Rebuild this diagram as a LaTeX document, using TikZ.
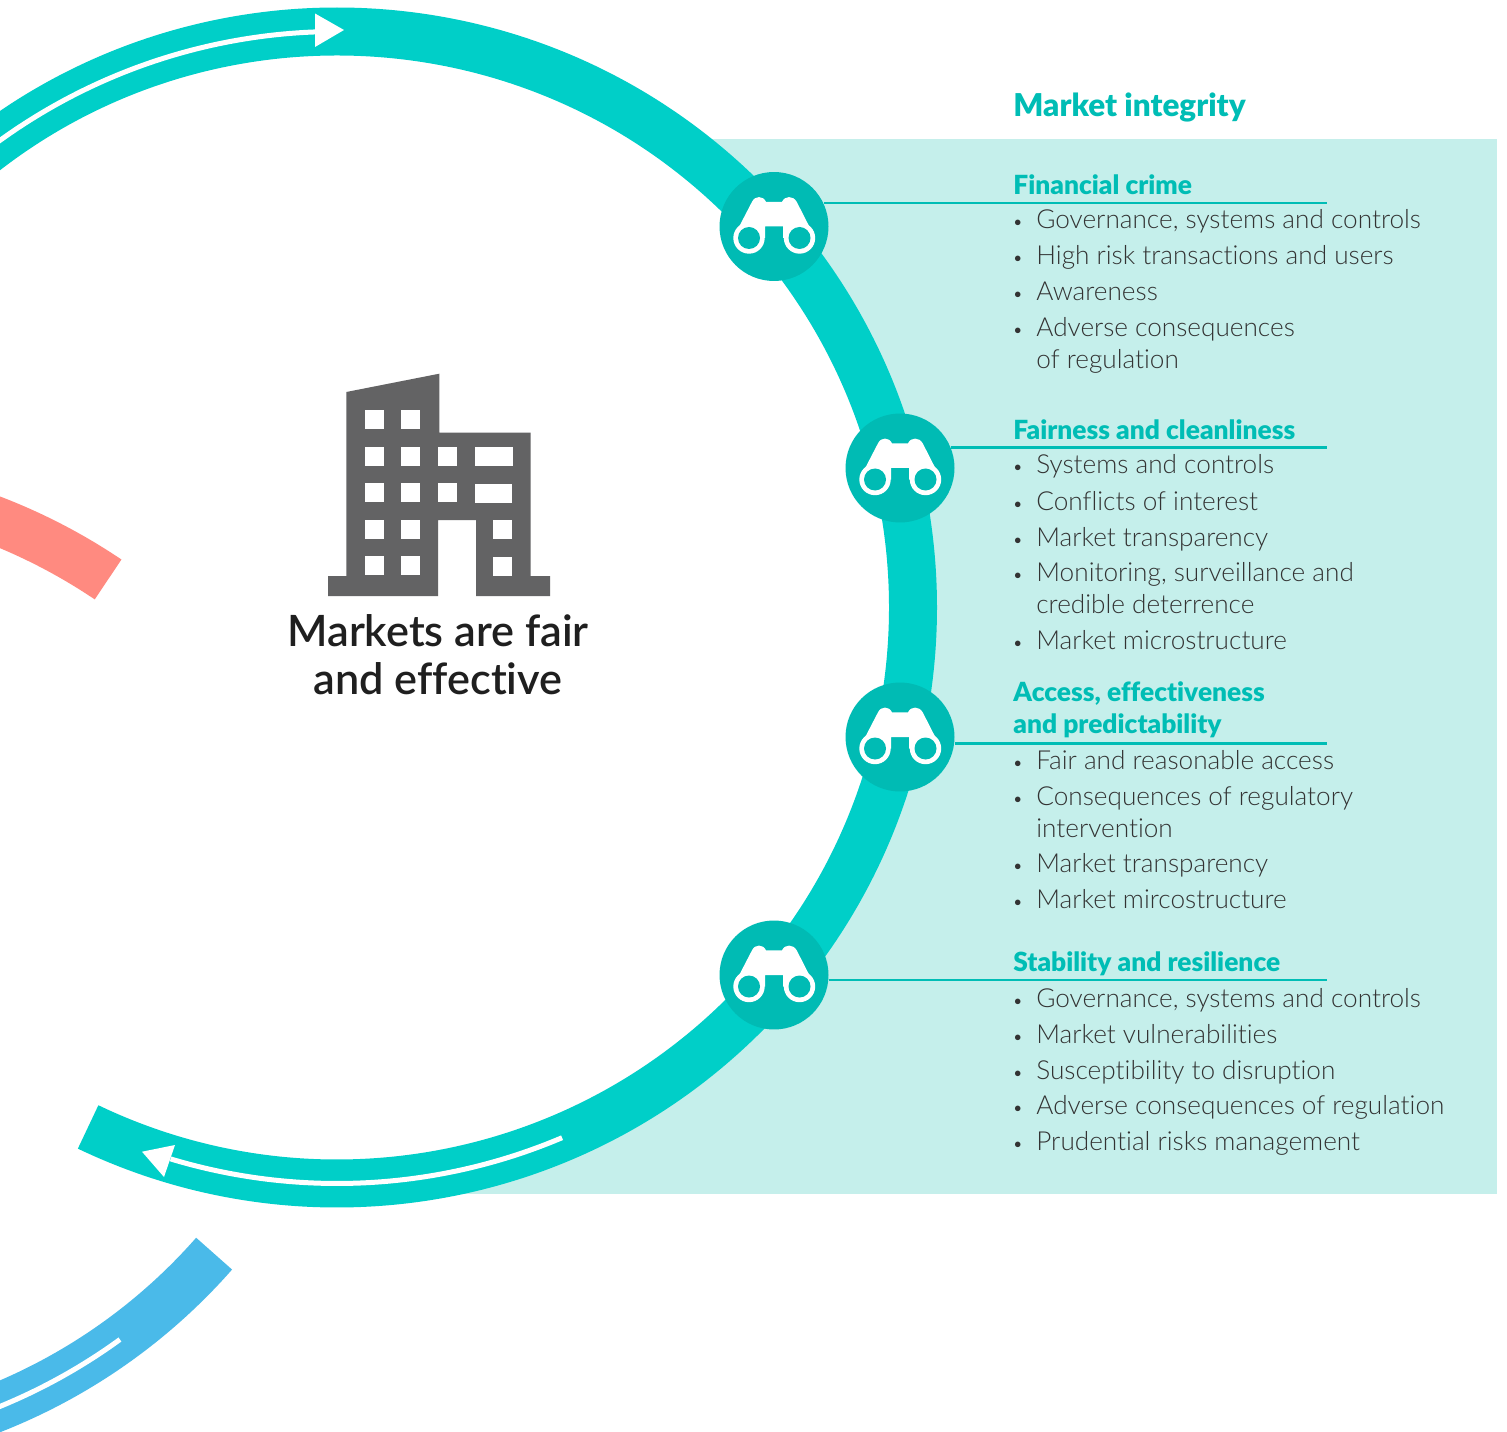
\documentclass[tikz,border=0pt]{standalone}
\usepackage{fontspec}
\setmainfont{Lato}[UprightFont=* Light,BoldFont=* Bold,Ligatures=NoCommon]
\newfontfamily\headfont{Lato Black}[Ligatures=NoCommon]
\newfontfamily\titlefont{Lato Semibold}[Ligatures=NoCommon]
\definecolor{ringteal}{HTML}{00CFC8}
\definecolor{lensteal}{HTML}{00BBB4}
\definecolor{paleteal}{HTML}{C5EFEB}
\definecolor{headteal}{HTML}{00BDB5}
\definecolor{salmon}{HTML}{FF8A80}
\definecolor{skyblue}{HTML}{4ABAE9}
\definecolor{towergray}{HTML}{636364}
\definecolor{itemgray}{HTML}{333333}
\newcommand{\bul}{\llap{\scalebox{0.72}{\textbullet}\hspace{0.5em}}}
\tikzset{
	band/.style={line width=0.96cm},
	thinline/.style={line width=0.1cm, draw=white},
	rulerline/.style={line width=0.05cm, draw=headteal},
	lens/.style={circle, fill=lensteal, minimum size=2.18cm, inner sep=0pt},
	itemtext/.style={anchor=base west, inner sep=0pt, text=itemgray, font=\fontsize{14.9}{18}\selectfont},
	headtext/.style={anchor=base west, inner sep=0pt, text=headteal, font=\fontsize{15}{18}\headfont},
	binoculars/.pic={
		\fill[white] (-39.3,8.7) -- (-22,-24.7) .. controls (-19,-31) and (-11,-31) .. (-8,-24.7) -- (8,-24.7) .. controls (11,-31) and (19,-31) .. (22.7,-24.7) -- (39.7,8.7) -- (25,11.5) -- (9,11.5) -- (9,0) -- (-9,0) -- (-9,11.5) -- (-25,11.5) -- cycle;
		\fill[white] (-25,11.5) circle (15.7);
		\fill[white] (25.5,11.5) circle (15.7);
		\fill[lensteal] (-25,11.5) circle (11);
		\fill[lensteal] (25.5,11.5) circle (11);
	}
}
\begin{document}
\begin{tikzpicture}[x=0.02cm,y=-0.02cm]
	\def\r{576}
	\clip (0,0) rectangle (1507,1432);
	\fill[white] (0,0) rectangle (1507,1432);
	\coordinate (c) at (337,607.5);
	\coordinate (s) at (-214,1057);
	\coordinate (b) at (-218.6,873.5);
	% panel behind the ring
	\fill[paleteal] (337,139) rectangle (1497,1193.5);
	\fill[white] (c) circle (\r);
	% rings
	\draw[band, draw=ringteal] (c) ++(225:\r) arc[start angle=225, end angle=475.6, radius=\r];
	\draw[band, draw=salmon] (s) ++(260:\r) arc[start angle=260, end angle=304, radius=\r];
	\draw[band, draw=skyblue] (b) ++(70:\r) arc[start angle=70, end angle=41.3, radius=\r];
	% white arrows
	\draw[thinline] (c) ++(225:\r) arc[start angle=225, end angle=267.8, radius=\r];
	\fill[white] (315,13.5) -- (344,30) -- (315,47) -- cycle;
	\draw[thinline] (c) ++(67:\r) arc[start angle=67, end angle=106.8, radius=\r];
	\fill[white] (142,1151.7) -- (175,1145) -- (164,1177) -- cycle;
	\draw[thinline] (b) ++(70:\r) arc[start angle=70, end angle=54, radius=\r];
	% tower
	\fill[towergray] (346.3,392) -- (439.3,373.7) -- (439.3,432.7) -- (530.7,432.7) -- (530.7,576) -- (550,576) -- (550,596) -- (476,596) -- (476,520) -- (438,520) -- (438,596) -- (328,596) -- (328,576) -- (346.3,576) -- cycle;
	\foreach \y in {410,447,483,520,556}
		\foreach \x in {365,401}
			\fill[white] (\x,\y) rectangle ++(19,19);
	\foreach \y in {447,483}
		\fill[white] (438,\y) rectangle ++(19,19);
	\fill[white] (475,447) rectangle (513,466);
	\fill[white] (475,484) rectangle (512,503);
	\fill[white] (493,520) rectangle (512,539);
	\fill[white] (493,557) rectangle (512,576);
	\node[inner sep=0pt, align=center, text=black!88, font=\fontsize{24.6}{27.2}\titlefont] (title) at (438,654.5) {Markets are fair\\and effective};
	% rulers and lenses
	\coordinate (e1) at (1327,203);
	\coordinate (e2) at (1327,447.5);
	\coordinate (e3) at (1327,743.5);
	\coordinate (e4) at (1327,980);
	\node[lens] (l1) at (774,226.5) {};
	\node[lens] (l2) at (900,468) {};
	\node[lens] (l3) at (900,737) {};
	\node[lens] (l4) at (774,975) {};
	\draw[rulerline] (l1.25.5 |- e1) -- (e1);
	\draw[rulerline] (l2.22 |- e2) -- (e2);
	\draw[rulerline] (l3.-6.8 |- e3) -- (e3);
	\draw[rulerline] (l4.-5.3 |- e4) -- (e4);
	\foreach \n in {l1,l2,l3,l4}
		\pic at (\n) {binoculars};
	% texts
	\node[headtext, font=\fontsize{17.9}{20}\headfont] (h0) at (1013,117) {Market integrity};
	\node[headtext] (h1) at (1013,195) {Financial crime};
	\node[itemtext] (a1) at (1036,229) {\bul Governance, systems and controls};
	\node[itemtext] (a2) at (1036,265) {\bul High risk transactions and users};
	\node[itemtext] (a3) at (1036,301) {\bul Awareness};
	\node[itemtext] (a4) at (1036,337) {\bul Adverse consequences};
	\node[itemtext] (a5) at (1036,369) {of regulation};
	\node[headtext] (h2) at (1013,439) {Fairness and cleanliness};
	\node[itemtext] (b1) at (1036,474) {\bul Systems and controls};
	\node[itemtext] (b2) at (1036,510) {\bul Conflicts of interest};
	\node[itemtext] (b3) at (1036,546) {\bul Market transparency};
	\node[itemtext] (b4) at (1036,581) {\bul Monitoring, surveillance and};
	\node[itemtext] (b5) at (1036,613) {credible deterrence};
	\node[itemtext] (b6) at (1036,649) {\bul Market microstructure};
	\node[headtext] (h3) at (1013,701) {Access, effectiveness};
	\node[headtext] (h3b) at (1013,733) {and predictability};
	\node[itemtext] (d1) at (1036,769) {\bul Fair and reasonable access};
	\node[itemtext] (d2) at (1036,805) {\bul Consequences of regulatory};
	\node[itemtext] (d3) at (1036,837) {intervention};
	\node[itemtext] (d4) at (1036,872) {\bul Market transparency};
	\node[itemtext] (d5) at (1036,908) {\bul Market mircostructure};
	\node[headtext] (h4) at (1013,971) {Stability and resilience};
	\node[itemtext] (f1) at (1036,1007) {\bul Governance, systems and controls};
	\node[itemtext] (f2) at (1036,1043) {\bul Market vulnerabilities};
	\node[itemtext] (f3) at (1036,1079) {\bul Susceptibility to disruption};
	\node[itemtext] (f4) at (1036,1114) {\bul Adverse consequences of regulation};
	\node[itemtext] (f5) at (1036,1150) {\bul Prudential risks management};
\end{tikzpicture}
\end{document}
